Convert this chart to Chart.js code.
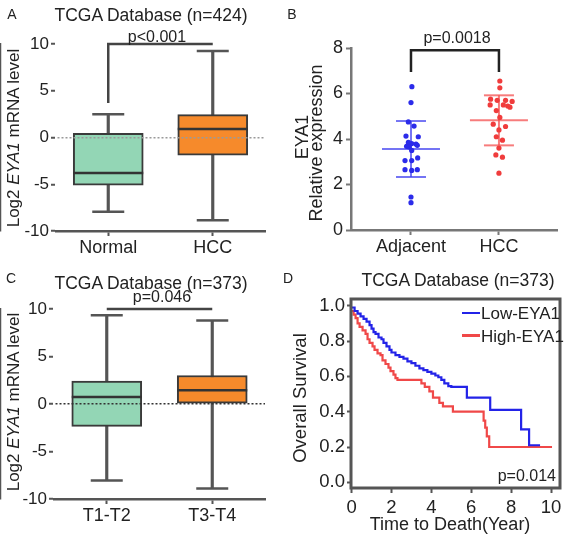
<!DOCTYPE html>
<html>
<head>
<meta charset="utf-8">
<script src="https://cdn.jsdelivr.net/npm/chart.js@4.4.0/dist/chart.umd.min.js"></script>
<style>
body { margin: 0; background: #fff; }
#fig { position: relative; width: 566px; height: 542px; font-family: "Liberation Sans", Arial, sans-serif; color: #222; }
.pane { position: absolute; width: 283px; height: 271px; }
.t { position: absolute; white-space: nowrap; line-height: 1; transform: translate(-50%, -50%); }
.r { transform: translate(-50%, -50%) rotate(-90deg); }
.l { position: absolute; white-space: nowrap; line-height: 1; transform: translateY(-50%); }
</style>
</head>
<body>
<div id="fig">
  <div class="pane" style="left:0;top:0"><canvas id="chartA" width="283" height="271"></canvas></div>
  <div class="pane" style="left:283px;top:0"><canvas id="chartB" width="283" height="271"></canvas></div>
  <div class="pane" style="left:0;top:271px"><canvas id="chartC" width="283" height="271"></canvas></div>
  <div class="pane" style="left:283px;top:271px"><canvas id="chartD" width="283" height="271"></canvas></div>

  <div class="t" style="left:12px;top:14px;font-size:14px">A</div>
  <div class="t" style="left:151px;top:16px;font-size:17.5px">TCGA Database (n=424)</div>
  <div class="t" style="left:157px;top:37px;font-size:16px">p&lt;0.001</div>
  <div class="t r" style="left:12.5px;top:138px;font-size:17px">Log2 <i>EYA1</i> mRNA level</div>

  <div class="t" style="left:292px;top:14px;font-size:14px">B</div>
  <div class="t" style="left:457px;top:38px;font-size:16px">p=0.0018</div>
  <div class="t r" style="left:302px;top:137px;font-size:18px">EYA1</div>
  <div class="t r" style="left:316px;top:143px;font-size:18px">Relative expression</div>

  <div class="t" style="left:11px;top:278px;font-size:14px">C</div>
  <div class="t" style="left:151px;top:284px;font-size:17.5px">TCGA Database (n=373)</div>
  <div class="t" style="left:162px;top:297px;font-size:16px">p=0.046</div>
  <div class="t r" style="left:12.5px;top:402px;font-size:17px">Log2 <i>EYA1</i> mRNA level</div>

  <div class="t" style="left:288px;top:278px;font-size:14px">D</div>
  <div class="t" style="left:458px;top:281px;font-size:17.5px">TCGA Database (n=373)</div>
  <div class="t r" style="left:300px;top:398px;font-size:18.5px">Overall Survival</div>
  <div class="t" style="left:450px;top:524px;font-size:18px">Time to Death(Year)</div>
  <div style="position:absolute;left:462px;top:311.5px;width:18px;height:2.5px;background:#2323e8"></div>
  <div class="l" style="left:481px;top:313px;font-size:17px">Low-EYA1</div>
  <div style="position:absolute;left:462px;top:334px;width:18px;height:2.5px;background:#f04848"></div>
  <div class="l" style="left:481px;top:335.5px;font-size:17px">High-EYA1</div>
  <div class="l" style="right:10px;top:476px;font-size:16px">p=0.014</div>
</div>

<script>
// A: normal vs HCC (TCGA, n=424)
var labelsA = ['Normal', 'HCC'];
var minA = [-7.95, -8.85];
var q1A = [-5.1, -1.9];
var medA = [-3.8, 0.9];
var q3A = [0.45, 2.45];
var maxA = [2.5, 9.25];
var bracketA = [3.7, 10];

// C: T stage (TCGA, n=373)
var labelsC = ['T1-T2', 'T3-T4'];
var minC = [-8.05, -8.9];
var q1C = [-2.35, 0];
var medC = [0.75, 1.45];
var q3C = [2.4, 3.0];
var maxC = [9.35, 8.8];
var bracketC = 10;

// B: qPCR, adjacent vs HCC
var groupsB = ['Adjacent', 'HCC'];
var adjacent = [6.3, 5.6, 4.75, 4.57, 4.13, 4.1, 3.85, 3.8, 3.78, 3.72, 3.68, 3.65, 3.5, 3.17, 3.05, 3.05, 2.65, 2.62, 2.65, 1.45, 1.2];
var adjJitter = [0.01, 0, -0.03, 0.035, -0.057, 0.083, -0.03, 0.008, 0.057, 0.072, -0.05, -0.02, 0.008, 0.076, -0.068, 0.008, -0.068, 0.008, 0.072, 0, 0];
var hcc = [6.55, 6.25, 5.75, 5.7, 5.7, 5.65, 5.5, 5.5, 5.45, 5.4, 5.25, 4.95, 4.65, 4.55, 4.4, 4.1, 3.95, 3.6, 3.3, 3.2, 2.5];
var hccJitter = [0.01, 0.01, -0.095, -0.02, 0.075, 0.15, -0.1, 0.05, 0.1, 0.125, -0.03, 0.01, -0.065, 0.075, 0, -0.03, 0.04, 0, -0.035, 0.04, 0];
var meanB = [3.56, 4.82];
var sdB = [1.23, 1.1];
var bracketB = [6.95, 7.9];

// D: Kaplan-Meier
var lowTime = [0, 0.15, 0.3, 0.45, 0.6, 0.75, 0.9, 1.0, 1.1, 1.2, 1.35, 1.5, 1.6, 1.75, 1.9, 2.0, 2.2, 2.4, 2.6, 2.8, 3.0, 3.2, 3.4, 3.6, 3.8, 4.0, 4.2, 4.35, 4.5, 4.65, 4.85, 5.0, 5.78, 6.95, 8.5, 8.9, 9.45];
var lowSurv = [0.99, 0.97, 0.955, 0.94, 0.925, 0.91, 0.89, 0.87, 0.85, 0.84, 0.82, 0.81, 0.79, 0.77, 0.75, 0.735, 0.72, 0.71, 0.70, 0.685, 0.675, 0.66, 0.645, 0.635, 0.625, 0.615, 0.605, 0.595, 0.58, 0.56, 0.545, 0.54, 0.48, 0.41, 0.30, 0.21, 0.21];
var highTime = [0, 0.1, 0.2, 0.3, 0.4, 0.55, 0.7, 0.8, 0.9, 1.05, 1.15, 1.3, 1.45, 1.55, 1.7, 1.85, 1.95, 2.1, 2.2, 2.3, 3.5, 3.67, 3.9, 4.08, 4.4, 4.58, 5.08, 6.62, 6.7, 6.78, 6.9, 10.05];
var highSurv = [0.97, 0.95, 0.93, 0.90, 0.88, 0.86, 0.84, 0.81, 0.79, 0.77, 0.75, 0.73, 0.72, 0.69, 0.67, 0.65, 0.63, 0.61, 0.59, 0.58, 0.56, 0.54, 0.515, 0.48, 0.45, 0.43, 0.40, 0.35, 0.31, 0.26, 0.20, 0.20];
var xTicksD = [0, 2, 4, 6, 8, 10];
var yTicksD = [0, 0.2, 0.4, 0.6, 0.8, 1.0];

Chart.defaults.font.family = '"Liberation Sans", Arial, sans-serif';
Chart.defaults.color = '#222';
Chart.defaults.animation = false;
Chart.defaults.events = [];
Chart.defaults.plugins.legend.display = false;
Chart.defaults.plugins.tooltip.enabled = false;

var green = '#93d6b5';
var orange = '#f68a2b';
var axisGray = '#555';

// fixed axis sizes so the plot areas sit where the figure has them
function fixX(h) {
    return function(s) { s.height = h; s.paddingLeft = 0; s.paddingRight = 0; };
}
function fixY(w) {
    return function(s) { s.width = w; s.paddingTop = 0; s.paddingBottom = 0; };
}

function boxChart(id, labels, mins, q1s, meds, q3s, maxs, bracket, zeroColor, pad, yWidth, xHeight) {
    return new Chart(document.getElementById(id), {
        type: 'bar',
        data: {
            labels: labels,
            datasets: [
                { type: 'bar', data: mins.map(function(v, i) { return [v, maxs[i]]; }),
                  backgroundColor: axisGray, barThickness: 2.5, grouped: false, order: 4 },
                { type: 'bar', data: q1s.map(function(v, i) { return [v, q3s[i]]; }),
                  backgroundColor: [green, orange], borderColor: '#3a3a3a', borderWidth: 2,
                  borderSkipped: false, barThickness: 70, grouped: false, order: 3 },
                { type: 'line', data: meds, showLine: false, pointStyle: 'line', pointRadius: 35,
                  pointBorderWidth: 2.5, pointBorderColor: '#333', order: 2 },
                { type: 'line', data: mins, showLine: false, pointStyle: 'line', pointRadius: 16,
                  pointBorderWidth: 2.5, pointBorderColor: axisGray, order: 2 },
                { type: 'line', data: maxs, showLine: false, pointStyle: 'line', pointRadius: 16,
                  pointBorderWidth: 2.5, pointBorderColor: axisGray, order: 2 },
                { type: 'line', data: bracket, borderColor: '#444', borderWidth: 2.5,
                  pointRadius: 0, clip: false, order: 1 }
            ]
        },
        options: {
            responsive: false,
            layout: { autoPadding: false, padding: pad },
            scales: {
                x: {
                    afterFit: fixX(xHeight),
                    grid: { offset: false, drawOnChartArea: false, tickLength: 5, tickColor: axisGray, tickWidth: 2 },
                    border: { color: axisGray, width: 2.5 },
                    ticks: { font: { size: 18 }, padding: 1, color: '#222' }
                },
                y: {
                    min: -10, max: 10,
                    afterFit: fixY(yWidth),
                    ticks: { stepSize: 5, font: { size: 17 }, padding: 2, color: '#222' },
                    grid: {
                        z: 1, lineWidth: 1.5, tickLength: 5, tickColor: axisGray, tickWidth: 2,
                        color: function(ctx) { return ctx.tick && ctx.tick.value === 0 ? zeroColor : 'rgba(0,0,0,0)'; }
                    },
                    border: { color: axisGray, width: 2.5, dash: [2, 2] }
                }
            }
        }
    });
}

boxChart('chartA', labelsA, minA, q1A, medA, q3A, maxA,
    [{ x: 'Normal', y: bracketA[0] }, { x: 'Normal', y: bracketA[1] }, { x: 'HCC', y: bracketA[1] }],
    '#9a9a9a', { left: 0, top: 44, right: 18, bottom: 0 }, 56, 40);

boxChart('chartC', labelsC, minC, q1C, medC, q3C, maxC,
    [{ x: 'T1-T2', y: bracketC }, { x: 'T3-T4', y: bracketC }],
    '#333', { left: 0, top: 38, right: 18, bottom: 0 }, 54, 43);

// B: dot plot with mean and SD
var blue = '#2b2bea';
var red = '#f03c3c';
var blueLine = 'rgba(70,70,240,0.75)';
var redLine = 'rgba(244,80,80,0.75)';
new Chart(document.getElementById('chartB'), {
    type: 'scatter',
    data: {
        datasets: [
            { data: adjacent.map(function(v, i) { return { x: 1 + adjJitter[i], y: v }; }),
              backgroundColor: blue, borderWidth: 0, pointRadius: 2.6, order: 1 },
            { data: hcc.map(function(v, i) { return { x: 2 + hccJitter[i], y: v }; }),
              backgroundColor: red, borderWidth: 0, pointRadius: 2.6, order: 1 },
            { data: meanB.map(function(m, i) { return { x: i + 1, y: m }; }),
              pointStyle: 'line', pointRadius: 29, pointBorderWidth: 2,
              pointBorderColor: [blueLine, redLine], order: 2 },
            { data: [
                { x: 1, y: meanB[0] + sdB[0] }, { x: 1, y: meanB[0] - sdB[0] },
                { x: 2, y: meanB[1] + sdB[1] }, { x: 2, y: meanB[1] - sdB[1] }],
              pointStyle: 'line', pointRadius: 15, pointBorderWidth: 2,
              pointBorderColor: [blueLine, blueLine, redLine, redLine], order: 2 },
            { type: 'line', data: [{ x: 1, y: meanB[0] - sdB[0] }, { x: 1, y: meanB[0] + sdB[0] }],
              borderColor: blueLine, borderWidth: 2, pointRadius: 0, order: 2 },
            { type: 'line', data: [{ x: 2, y: meanB[1] - sdB[1] }, { x: 2, y: meanB[1] + sdB[1] }],
              borderColor: redLine, borderWidth: 2, pointRadius: 0, order: 2 },
            { type: 'line', data: [{ x: 1, y: bracketB[0] }, { x: 1, y: bracketB[1] }, { x: 2, y: bracketB[1] }, { x: 2, y: bracketB[0] }],
              borderColor: '#222', borderWidth: 2.5, pointRadius: 0, clip: false, order: 0 }
        ]
    },
    options: {
        responsive: false,
        layout: { autoPadding: false, padding: { left: 0, top: 48, right: 9, bottom: 0 } },
        scales: {
            x: {
                type: 'linear', min: 0.318, max: 2.66,
                afterFit: fixX(41),
                afterBuildTicks: function(s) { s.ticks = [{ value: 1 }, { value: 2 }]; },
                ticks: { font: { size: 18 }, padding: 1, color: '#222',
                         callback: function(v) { return groupsB[v - 1]; } },
                grid: { drawOnChartArea: false, tickLength: 5, tickColor: '#777', tickWidth: 2 },
                border: { color: '#777', width: 2.5 }
            },
            y: {
                min: 0, max: 8,
                afterFit: fixY(68),
                ticks: { stepSize: 2, font: { size: 18 }, padding: 3, color: '#222' },
                grid: { drawOnChartArea: false, tickLength: 5, tickColor: '#777', tickWidth: 2 },
                border: { color: '#777', width: 2.5 }
            }
        }
    }
});

// D: survival curves, boxed frame
var framePlugin = {
    id: 'frame',
    afterDraw: function(chart) {
        var ctx = chart.ctx, a = chart.chartArea;
        ctx.save();
        ctx.strokeStyle = '#555';
        ctx.lineWidth = 3;
        ctx.strokeRect(a.left, a.top, a.right - a.left, a.bottom - a.top);
        ctx.restore();
    }
};

new Chart(document.getElementById('chartD'), {
    type: 'line',
    data: {
        datasets: [
            { label: 'Low-EYA1', data: lowTime.map(function(t, i) { return { x: t, y: lowSurv[i] }; }),
              borderColor: '#2323e8', borderWidth: 2.2, pointRadius: 0, stepped: true },
            { label: 'High-EYA1', data: highTime.map(function(t, i) { return { x: t, y: highSurv[i] }; }),
              borderColor: '#f04848', borderWidth: 2.2, pointRadius: 0, stepped: true }
        ]
    },
    plugins: [framePlugin],
    options: {
        responsive: false,
        layout: { autoPadding: false, padding: { left: 0, top: 28, right: 6, bottom: 0 } },
        scales: {
            x: {
                type: 'linear', min: -0.03, max: 10.45,
                afterFit: fixX(54),
                afterBuildTicks: function(s) { s.ticks = xTicksD.map(function(v) { return { value: v }; }); },
                ticks: { font: { size: 18.5 }, padding: 4, color: '#222' },
                grid: { drawOnChartArea: false, tickLength: 5, tickColor: '#555', tickWidth: 2 },
                border: { display: false }
            },
            y: {
                min: -0.032, max: 1.038,
                afterFit: fixY(68),
                afterBuildTicks: function(s) { s.ticks = yTicksD.map(function(v) { return { value: v }; }); },
                ticks: { font: { size: 18.5 }, padding: 2, color: '#222',
                         callback: function(v) { return v.toFixed(1); } },
                grid: { drawOnChartArea: false, tickLength: 4, tickColor: '#555', tickWidth: 2 },
                border: { display: false }
            }
        }
    }
});
</script>
</body>
</html>
